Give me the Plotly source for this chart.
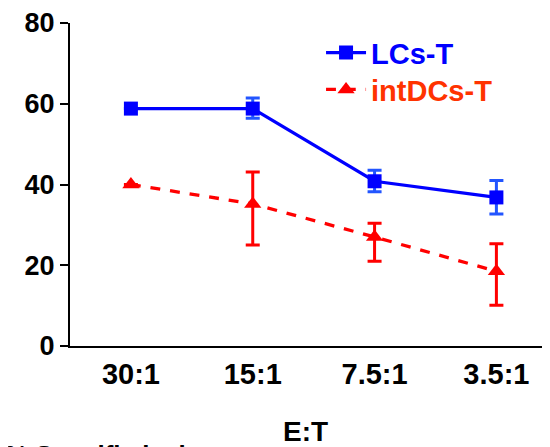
import plotly.graph_objects as go

categories = ["30:1", "15:1", "7.5:1", "3.5:1"]
lcs_vals = [58.8, 58.8, 40.8, 36.8]
lcs_err_plus = [0.0, 2.6, 2.7, 4.2]
lcs_err_minus = [0.0, 2.4, 2.6, 4.1]
dcs_vals = [40.0, 35.2, 27.0, 18.5]
dcs_err_plus = [0.0, 7.9, 3.4, 6.8]
dcs_err_minus = [0.0, 10.2, 6.0, 8.4]
yticks = [0, 20, 40, 60, 80]

FONT = "Liberation Sans, Arial"

fig = go.Figure()
fig.add_trace(go.Scatter(
    x=categories, y=lcs_vals, mode="lines+markers",
    name='<span style="color:#0000FF">LCs-T</span>', legend="legend",
    line=dict(color="#0000FF", width=3.3),
    marker=dict(symbol="square", size=14, color="#0000FF"),
    error_y=dict(type="data", symmetric=False, array=lcs_err_plus, arrayminus=lcs_err_minus,
                 color="#2255FF", thickness=3, width=7),
))
fig.add_trace(go.Scatter(
    x=categories, y=dcs_vals, mode="lines+markers",
    name='<span style="color:#FF3300">intDCs-T</span>', legend="legend2",
    line=dict(color="#FF0000", width=3.3, dash="dash"),
    marker=dict(symbol="triangle-up", size=15, color="#FF0000"),
    error_y=dict(type="data", symmetric=False, array=dcs_err_plus, arrayminus=dcs_err_minus,
                 color="#FF0000", thickness=3, width=7),
))

legend_common = dict(xanchor="left", yanchor="middle",
                     font=dict(size=29, family=FONT, weight="bold"),
                     bgcolor="rgba(0,0,0,0)", itemwidth=40)

fig.update_layout(
    width=542, height=439,
    margin=dict(l=62, r=0, t=13, b=101),
    plot_bgcolor="white", paper_bgcolor="white",
    font=dict(family=FONT, color="black"),
    showlegend=True,
    legend=dict(x=0.523, y=0.908, **legend_common),
    legend2=dict(x=0.523, y=0.794, **legend_common),
    xaxis=dict(type="category", range=[-0.5, 3.44], showline=True, linecolor="black",
               linewidth=2, ticks="", showgrid=False, zeroline=False,
               tickfont=dict(size=29, family=FONT, weight="bold"),
               ticklabelstandoff=1),
    yaxis=dict(range=[0, 80], tickvals=yticks, showline=True, linecolor="black", linewidth=2,
               ticks="outside", ticklen=8, tickwidth=2, tickcolor="black",
               showgrid=False, zeroline=False, ticklabeloverflow="allow",
               tickfont=dict(size=27, family=FONT, weight="bold")),
    annotations=[
        dict(text="E:T", x=0.49, xref="paper", y=-0.209, yref="paper",
             xanchor="center", yanchor="top", showarrow=False,
             font=dict(size=28, family=FONT, weight="bold")),
        dict(text="% Specific lysis", x=-0.14, xref="paper", y=-0.285, yref="paper",
             xanchor="left", yanchor="top", showarrow=False,
             font=dict(size=26, family=FONT, weight="bold")),
    ],
)

fig.write_html("out.html")
